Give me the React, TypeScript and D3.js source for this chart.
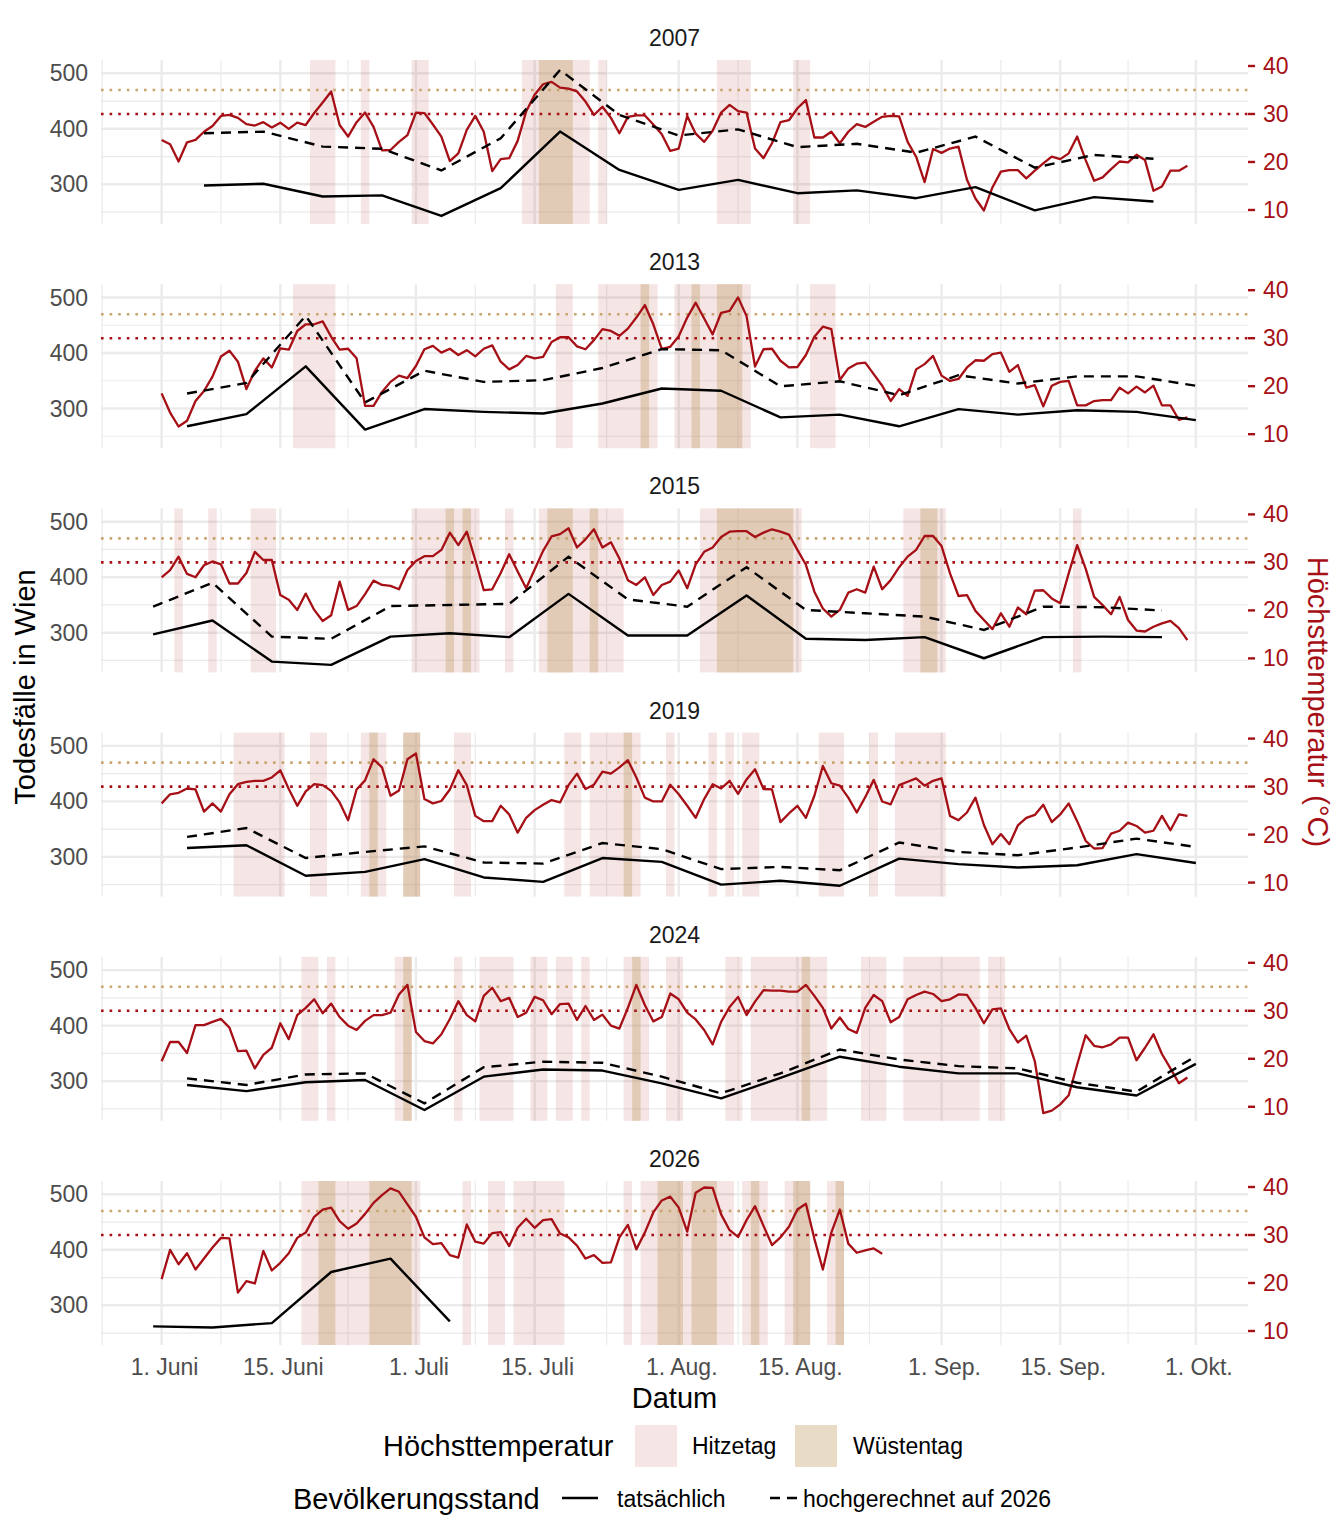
import React from 'react';
import * as d3 from 'd3';

// ---------- data ----------
const years = ['2007', '2013', '2015', '2019', '2024', '2026'];

// daily maximum temperature (°C), starting 1 June (day 0)
const tmax2007 = [24.6, 23.7, 20.1, 24.1, 24.6, 26.3, 27.5, 29.6, 29.8, 29.2, 27.9, 27.6, 28.3, 27.2, 28.2, 26.9, 28.2, 27.7, 30.2, 32.4, 34.7, 27.7, 25.3, 28.3, 30.3, 27.3, 22.4, 22.5, 24.2, 25.6, 30.3, 30.2, 27.8, 25.3, 20.2, 21.8, 26.7, 29.6, 26.3, 18.1, 20.6, 20.8, 24.4, 30.5, 34.0, 36.2, 36.7, 35.5, 35.3, 34.7, 32.6, 29.8, 31.5, 29.2, 26.0, 29.4, 29.7, 29.7, 27.8, 25.8, 22.3, 22.8, 29.6, 25.9, 24.2, 26.5, 30.3, 31.9, 30.6, 30.3, 22.8, 20.8, 23.9, 28.3, 28.7, 31.2, 32.9, 25.1, 25.1, 26.3, 23.9, 26.3, 27.9, 27.3, 28.4, 29.4, 29.6, 29.5, 24.2, 21.1, 15.8, 22.7, 21.9, 22.8, 23.2, 16.3, 12.4, 9.9, 14.7, 18.0, 18.3, 18.3, 16.6, 18.2, 19.7, 21.1, 20.6, 21.8, 25.3, 20.4, 16.1, 16.8, 18.5, 20.1, 19.9, 21.5, 20.4, 14.0, 14.9, 18.2, 18.2, 19.2];
const tmax2013 = [18.5, 14.5, 11.6, 12.8, 16.9, 19.0, 22.0, 26.2, 27.4, 25.1, 19.4, 23.2, 25.8, 23.9, 27.9, 27.6, 31.5, 32.9, 32.9, 33.5, 30.3, 27.6, 27.8, 25.8, 15.9, 15.9, 18.8, 20.9, 22.2, 21.7, 24.2, 27.7, 28.4, 27.0, 27.8, 26.5, 27.5, 26.2, 27.8, 28.5, 25.1, 23.5, 24.4, 26.3, 25.8, 26.1, 29.2, 30.2, 30.2, 28.3, 27.7, 29.6, 31.9, 31.5, 30.5, 32.0, 34.3, 36.9, 32.9, 27.8, 28.2, 30.4, 34.3, 37.4, 34.1, 30.8, 35.3, 35.7, 38.5, 34.6, 24.1, 27.7, 27.8, 25.3, 23.9, 24.0, 26.5, 30.3, 32.4, 31.9, 21.3, 23.7, 24.7, 24.9, 22.5, 20.1, 16.9, 19.4, 18.0, 23.5, 24.6, 26.3, 22.2, 21.1, 21.5, 23.9, 25.4, 25.3, 26.7, 27.0, 23.0, 24.4, 19.7, 20.2, 15.8, 20.1, 20.9, 21.1, 16.0, 16.0, 16.9, 17.1, 17.1, 19.7, 18.5, 19.9, 18.7, 20.1, 16.0, 16.0, 13.0, 13.5];
const tmax2015 = [26.9, 28.4, 31.2, 27.6, 26.9, 29.4, 30.2, 29.6, 25.6, 25.6, 27.8, 32.2, 30.5, 30.5, 23.2, 22.2, 20.1, 23.5, 20.1, 17.8, 19.0, 26.0, 20.1, 20.9, 23.4, 26.2, 25.3, 25.1, 24.4, 28.4, 30.3, 31.3, 31.3, 32.6, 36.2, 33.6, 36.4, 30.5, 24.2, 24.4, 27.8, 31.7, 28.1, 24.6, 28.5, 32.4, 35.4, 35.9, 37.1, 33.1, 34.8, 36.9, 33.1, 34.2, 30.8, 26.3, 25.3, 26.9, 23.2, 25.3, 26.0, 28.3, 24.6, 29.6, 32.2, 33.1, 35.3, 36.4, 36.5, 36.5, 35.3, 36.2, 36.9, 36.4, 35.8, 32.6, 29.5, 23.9, 20.4, 18.7, 20.1, 23.7, 24.4, 23.7, 29.1, 24.4, 26.3, 29.0, 31.2, 32.6, 35.5, 35.5, 33.4, 27.7, 23.0, 23.2, 19.9, 18.0, 16.1, 19.4, 16.6, 20.6, 19.2, 24.1, 24.2, 22.5, 21.5, 27.7, 33.6, 28.7, 22.8, 21.1, 19.2, 22.8, 18.0, 15.8, 15.6, 16.6, 17.3, 17.8, 16.3, 13.8];
const tmax2019 = [26.5, 28.4, 28.7, 29.6, 29.4, 24.8, 26.5, 24.8, 28.4, 30.5, 31.0, 31.2, 31.2, 31.9, 33.4, 29.5, 26.0, 29.0, 30.5, 30.3, 29.1, 26.7, 23.0, 29.4, 31.3, 35.7, 34.0, 28.1, 29.2, 35.7, 36.9, 27.4, 26.5, 27.0, 29.4, 33.4, 30.3, 23.9, 22.8, 22.8, 26.0, 24.2, 20.4, 23.5, 25.1, 26.2, 27.2, 26.7, 30.3, 32.7, 29.5, 30.4, 33.1, 32.7, 34.0, 35.5, 31.9, 27.7, 26.9, 26.9, 30.4, 28.4, 26.0, 23.5, 27.4, 30.5, 29.6, 31.2, 28.5, 31.5, 33.6, 29.5, 29.4, 22.6, 24.4, 26.0, 23.5, 28.1, 34.3, 30.7, 30.2, 27.7, 24.6, 27.8, 31.4, 26.9, 26.3, 30.3, 31.0, 31.7, 30.2, 31.2, 31.7, 23.9, 23.0, 24.6, 27.7, 22.0, 18.0, 20.1, 18.0, 21.9, 23.5, 24.1, 26.2, 22.6, 24.2, 26.5, 22.8, 18.7, 17.1, 17.2, 20.2, 20.8, 22.5, 21.8, 20.4, 20.8, 23.9, 20.9, 24.2, 23.9];
const tmax2024 = [19.5, 23.5, 23.5, 21.2, 27.0, 27.0, 27.7, 28.3, 26.5, 21.6, 21.7, 18.0, 20.8, 22.3, 27.4, 24.1, 29.1, 30.6, 32.4, 29.5, 31.5, 28.7, 26.9, 26.0, 27.9, 29.1, 29.1, 29.6, 33.4, 35.4, 25.6, 23.7, 23.2, 25.1, 28.3, 32.0, 29.1, 27.8, 33.1, 34.8, 32.0, 32.7, 28.7, 29.6, 32.9, 32.2, 29.3, 31.4, 31.5, 28.1, 31.0, 28.1, 29.2, 26.9, 26.3, 30.6, 35.4, 31.2, 27.8, 28.7, 33.6, 32.4, 29.6, 28.2, 26.0, 23.0, 27.7, 30.8, 32.9, 29.1, 31.9, 34.3, 34.2, 34.2, 34.0, 34.0, 35.4, 33.1, 30.6, 26.3, 28.6, 26.2, 25.4, 30.6, 33.3, 32.0, 27.6, 28.7, 32.4, 33.3, 34.0, 33.5, 32.0, 32.4, 33.4, 33.3, 30.6, 27.4, 30.3, 30.5, 26.2, 23.4, 24.8, 19.5, 8.7, 9.2, 10.5, 12.4, 18.8, 24.9, 22.7, 22.4, 23.0, 24.4, 24.4, 19.7, 22.3, 25.1, 21.0, 18.0, 14.9, 16.1];
const tmax2026 = [20.8, 26.9, 23.9, 26.2, 22.8, 25.1, 27.4, 29.4, 29.3, 18.0, 20.4, 19.9, 26.7, 22.6, 24.2, 26.2, 29.4, 30.5, 33.8, 35.3, 35.7, 32.9, 31.3, 32.4, 34.4, 36.7, 38.3, 39.7, 39.0, 36.4, 33.8, 29.5, 28.1, 28.3, 25.8, 25.3, 32.2, 28.6, 28.2, 30.4, 30.6, 27.7, 31.5, 33.4, 31.5, 33.1, 33.3, 30.3, 29.5, 27.8, 25.1, 25.8, 24.2, 24.3, 29.5, 32.1, 27.0, 30.5, 34.7, 37.2, 38.0, 35.7, 30.7, 38.8, 39.9, 39.8, 34.3, 31.0, 29.6, 33.1, 36.0, 31.9, 27.9, 29.5, 31.7, 35.3, 36.5, 29.2, 22.8, 30.5, 35.3, 28.2, 26.3, 26.8, 27.2, 26.1];

// weekly deaths in Vienna; first week's day offset from 1 June, then every 7 days
const deathFirstDay = [5, 3, -1, 3, 3, -1];
const deathsActual2007 = [298, 301, 278, 280, 243, 293, 395, 326, 290, 308, 284, 289, 275, 295, 253, 277, 269];
const deathsProjected2007 = [392, 395, 368, 364, 325, 383, 506, 425, 388, 399, 367, 373, 357, 386, 330, 353, 346];
const deathsActual2013 = [268, 290, 376, 262, 299, 294, 291, 309, 336, 332, 284, 289, 268, 299, 289, 297, 294, 279];
const deathsProjected2013 = [327, 346, 467, 311, 368, 348, 351, 373, 407, 405, 340, 349, 324, 360, 345, 358, 358, 341];
const deathsActual2015 = [297, 322, 248, 242, 293, 299, 292, 370, 295, 295, 367, 289, 287, 292, 254, 292, 293, 292];
const deathsProjected2015 = [347, 390, 293, 289, 348, 350, 352, 437, 360, 347, 418, 341, 335, 329, 305, 347, 346, 340];
const deathsActual2019 = [316, 321, 266, 273, 296, 263, 255, 298, 291, 250, 257, 248, 297, 287, 281, 285, 305, 289];
const deathsProjected2019 = [336, 352, 298, 309, 319, 290, 288, 325, 314, 278, 282, 276, 326, 309, 303, 317, 333, 318];
const deathsActual2024 = [293, 282, 298, 302, 248, 308, 321, 319, 296, 269, 306, 344, 326, 314, 314, 289, 274, 331];
const deathsProjected2024 = [305, 293, 312, 314, 260, 325, 335, 333, 308, 278, 314, 357, 339, 327, 323, 297, 281, 345];
const deathsActual2026 = [262, 260, 268, 360, 384, 271];
const deathsProjected2026: number[] = [];

const tmaxByYear = [tmax2007, tmax2013, tmax2015, tmax2019, tmax2024, tmax2026];
const actualByYear = [deathsActual2007, deathsActual2013, deathsActual2015, deathsActual2019, deathsActual2024, deathsActual2026];
const projectedByYear = [deathsProjected2007, deathsProjected2013, deathsProjected2015, deathsProjected2019, deathsProjected2024, deathsProjected2026];

// axes
const xTickDays = [0, 14, 30, 44, 61, 75, 92, 106, 122];
const xTickLabels = ['1. Juni', '15. Juni', '1. Juli', '15. Juli', '1. Aug.', '15. Aug.', '1. Sep.', '15. Sep.', '1. Okt.'];
const xMinorDays = [-7, 7, 22, 37, 52.5, 68, 83.5, 99, 114];
const deathTicks = [300, 400, 500];
const deathMinor = [250, 350, 450];
const tempTicks = [10, 20, 30, 40];
const hitzeThreshold = 30;
const wuesteThreshold = 35;

// ---------- styling ----------
const FONT = 'Liberation Sans, Arial, Helvetica, sans-serif';
const RED = '#a50f15';
const TANLINE = '#c8a46e';
const TANFILL = 'rgb(192,157,100)';
const GRID = '#ebebeb';
const SMALL = 23;
const LARGE = 29;

function runs(vals: number[], thr: number): [number, number][] {
  const out: [number, number][] = [];
  let s = -1;
  vals.forEach((v, i) => {
    if (v >= thr) {
      if (s < 0) s = i;
    } else if (s >= 0) {
      out.push([s, i - 1]);
      s = -1;
    }
  });
  if (s >= 0) out.push([s, vals.length - 1]);
  return out;
}

export default function App() {
  const W = 1344;
  const H = 1536;
  const left = 101;
  const right = 1248;
  const top0 = 60;
  const step = 224.2;
  const ph = 164;

  const x = d3.scaleLinear().domain([-7.15, 128.15]).range([left, right]);

  const panels = years.map((yr, p) => {
    const top = top0 + p * step;
    const yD = d3.scaleLinear().domain([228.5, 524]).range([top + ph, top]);
    const yT = d3.scaleLinear().domain([7.08, 41.25]).range([top + ph, top]);
    const temps = tmaxByYear[p];
    const tLine = d3.line<number>().x((_, i) => x(i)).y((d) => yT(d));
    const first = deathFirstDay[p];
    const dLine = d3.line<number>().x((_, i) => x(first + 7 * i)).y((d) => yD(d));
    const hitze = runs(temps, hitzeThreshold);
    const wueste = runs(temps, wuesteThreshold);
    return (
      <g key={yr}>
        <text x={(left + right) / 2} y={top - 22} textAnchor="middle" dominantBaseline="central" fontSize={SMALL} fill="#1a1a1a">{yr}</text>
        {deathMinor.map((v) => (
          <line key={'hm' + v} x1={left} x2={right} y1={yD(v)} y2={yD(v)} stroke={GRID} strokeWidth={1.2} />
        ))}
        {xMinorDays.map((d) => (
          <line key={'vm' + d} x1={x(d)} x2={x(d)} y1={top} y2={top + ph} stroke={GRID} strokeWidth={1.2} />
        ))}
        {deathTicks.map((v) => (
          <line key={'hM' + v} x1={left} x2={right} y1={yD(v)} y2={yD(v)} stroke={GRID} strokeWidth={2.4} />
        ))}
        {xTickDays.map((d) => (
          <line key={'vM' + d} x1={x(d)} x2={x(d)} y1={top} y2={top + ph} stroke={GRID} strokeWidth={2.4} />
        ))}
        {hitze.map(([a, b]) => (
          <rect key={'h' + a} x={x(a - 0.5)} y={top} width={x(b + 0.5) - x(a - 0.5)} height={ph} fill={RED} fillOpacity={0.11} />
        ))}
        {wueste.map(([a, b]) => (
          <rect key={'w' + a} x={x(a - 0.5)} y={top} width={x(b + 0.5) - x(a - 0.5)} height={ph} fill={TANFILL} fillOpacity={0.36} />
        ))}
        <line x1={left} x2={right} y1={yT(wuesteThreshold)} y2={yT(wuesteThreshold)} stroke={TANLINE} strokeWidth={2.6} strokeDasharray="2.6 6" />
        <line x1={left} x2={right} y1={yT(hitzeThreshold)} y2={yT(hitzeThreshold)} stroke={RED} strokeWidth={2.6} strokeDasharray="2.6 6" />
        <path d={tLine(temps) || ''} fill="none" stroke={RED} strokeWidth={2.3} strokeLinejoin="round" />
        {projectedByYear[p].length > 0 && (
          <path d={dLine(projectedByYear[p]) || ''} fill="none" stroke="#000" strokeWidth={2.4} strokeDasharray="10 7" />
        )}
        <path d={dLine(actualByYear[p]) || ''} fill="none" stroke="#000" strokeWidth={2.4} strokeLinejoin="round" />
        {deathTicks.map((v) => (
          <text key={'ly' + v} x={88} y={yD(v)} textAnchor="end" dominantBaseline="central" fontSize={SMALL} fill="#4d4d4d">{v}</text>
        ))}
        {tempTicks.map((t) => (
          <g key={'ry' + t}>
            <line x1={right} x2={right + 7} y1={yT(t)} y2={yT(t)} stroke={RED} strokeWidth={2.4} />
            <text x={right + 15} y={yT(t)} dominantBaseline="central" fontSize={SMALL} fill={RED}>{t}</text>
          </g>
        ))}
      </g>
    );
  });

  const lastBottom = top0 + (years.length - 1) * step + ph;

  return (
    <svg width={W} height={H} viewBox={`0 0 ${W} ${H}`} style={{ position: 'absolute', left: 0, top: 0, background: '#fff' }} fontFamily={FONT}>
      <rect x={0} y={0} width={W} height={H} fill="#fff" />
      {panels}
      {xTickDays.map((d, i) => (
        <text key={'xt' + d} x={x(d) + 3} y={lastBottom + 22} textAnchor="middle" dominantBaseline="central" fontSize={SMALL} fill="#4d4d4d">{xTickLabels[i]}</text>
      ))}
      <text x={(left + right) / 2} y={1398} textAnchor="middle" dominantBaseline="central" fontSize={LARGE} fill="#000">Datum</text>
      <text transform={`translate(25,687) rotate(-90)`} textAnchor="middle" dominantBaseline="central" fontSize={LARGE} fill="#000">Todesfälle in Wien</text>
      <text transform={`translate(1318,702) rotate(90)`} textAnchor="middle" dominantBaseline="central" fontSize={LARGE} fill={RED}>Höchsttemperatur (°C)</text>
      <text x={383} y={1446} dominantBaseline="central" fontSize={LARGE} fill="#000">Höchsttemperatur</text>
      <rect x={635} y={1425} width={42} height={42} fill={RED} fillOpacity={0.11} />
      <text x={692} y={1446} dominantBaseline="central" fontSize={SMALL} fill="#000">Hitzetag</text>
      <rect x={795} y={1425} width={42} height={42} fill={TANFILL} fillOpacity={0.36} />
      <text x={853} y={1446} dominantBaseline="central" fontSize={SMALL} fill="#000">Wüstentag</text>
      <text x={293} y={1499} dominantBaseline="central" fontSize={LARGE} fill="#000">Bevölkerungsstand</text>
      <line x1={562} x2={598} y1={1498} y2={1498} stroke="#000" strokeWidth={2.4} />
      <text x={617} y={1499} dominantBaseline="central" fontSize={SMALL} fill="#000">tatsächlich</text>
      <line x1={770} x2={797} y1={1498} y2={1498} stroke="#000" strokeWidth={2.4} strokeDasharray="10 7" />
      <text x={803} y={1499} dominantBaseline="central" fontSize={SMALL} fill="#000">hochgerechnet auf 2026</text>
    </svg>
  );
}
